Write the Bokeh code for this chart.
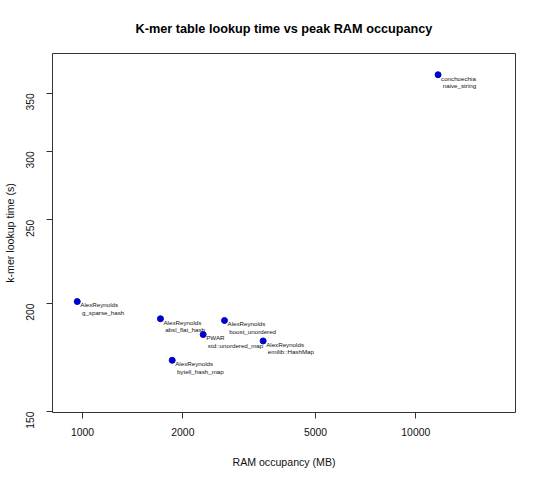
import math
from bokeh.plotting import figure
from bokeh.models import Range1d, FixedTicker, PrintfTickFormatter, ColumnDataSource
from bokeh.core.properties import value
from bokeh.embed import file_html
from bokeh.resources import INLINE

# ---- data ----
authors = ["AlexReynolds", "AlexReynolds", "AlexReynolds", "PWAR",
           "AlexReynolds", "AlexReynolds", "conchoechia"]
implementations = ["g_sparse_hash", "absl_flat_hash", "boost_unordered",
                   "std::unordered_map", "emilib::HashMap", "bytell_hash_map",
                   "naive_string"]
ram_mb = [964, 1713, 2667, 2301, 3483, 1858, 11665]
lookup_s = [201.0, 192.0, 191.1, 184.1, 181.0, 171.9, 367.6]
x_ticks = [1000, 2000, 5000, 10000]
y_ticks = [150, 200, 250, 300, 350]
title_text = "K-mer table lookup time vs peak RAM occupancy"

FONT = "Liberation Sans"

src = ColumnDataSource(dict(x=ram_mb, y=lookup_s, a=authors, i=implementations))

p = figure(width=540, height=478,
           x_axis_type="log", y_axis_type="log",
           x_range=Range1d(812.4, 19918), y_range=Range1d(149.6, 389.0),
           output_backend="svg", toolbar_location=None,
           min_border_left=52, min_border_right=25,
           min_border_top=53, min_border_bottom=66,
           background_fill_color="white", border_fill_color="white")

p.title.text = title_text
p.title.align = "center"
p.title.vertical_align = "middle"
p.title.text_font = FONT
p.title.text_font_size = "12.7px"
p.title.text_font_style = "bold"
p.title.text_color = "black"
p.title.standoff = 34

p.xgrid.visible = False
p.ygrid.visible = False
p.outline_line_color = "#333333"
p.outline_line_width = 1

for ax in (p.xaxis[0], p.yaxis[0]):
    ax.axis_line_color = None
    ax.major_tick_line_color = "#333333"
    ax.major_tick_out = 6
    ax.major_tick_in = 0
    ax.minor_tick_line_color = None
    ax.major_label_text_font = FONT
    ax.major_label_text_font_size = "10.4px"
    ax.major_label_text_color = "#111111"
    ax.axis_label_text_font = FONT
    ax.axis_label_text_font_size = "10.6px"
    ax.axis_label_text_font_style = "normal"
    ax.axis_label_text_color = "#111111"
    ax.formatter = PrintfTickFormatter(format="%d")

p.xaxis[0].ticker = FixedTicker(ticks=x_ticks)
p.yaxis[0].ticker = FixedTicker(ticks=y_ticks)
p.xaxis[0].axis_label = "RAM occupancy (MB)"
p.yaxis[0].axis_label = "k-mer lookup time (s)"
p.xaxis[0].major_label_standoff = 9
p.xaxis[0].axis_label_standoff = 17
p.yaxis[0].major_label_standoff = 16
p.yaxis[0].major_label_orientation = math.pi / 2
p.yaxis[0].axis_label_standoff = 4

p.scatter("x", "y", source=src, size=6, marker="circle",
          fill_color="#0000CD", line_color="#0000CD")

p.text("x", "y", text="a", source=src, x_offset=3, y_offset=3.3,
       text_font=value(FONT), text_font_size="6.2px", text_color="#111111",
       text_align="left", text_baseline="middle")
p.text("x", "y", text="i", source=src, x_offset=4.7, y_offset=11,
       text_font=value(FONT), text_font_size="6.2px", text_color="#111111",
       text_align="left", text_baseline="middle")

open("out.html", "w").write(file_html(p, INLINE))
